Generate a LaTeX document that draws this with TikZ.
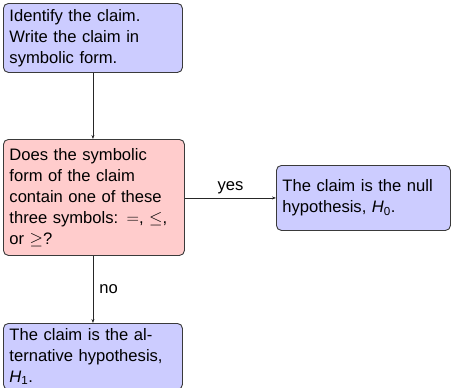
\documentclass[tikz,border=0pt]{standalone}
\usepackage{amsmath}
\usepackage{fontspec}
\setmainfont{Liberation Sans}
\usetikzlibrary{arrows.meta}
\definecolor{stepblue}{HTML}{CCCCFF}
\definecolor{stepred}{HTML}{FFCCCC}
\definecolor{edgegray}{HTML}{3A3A3A}
\tikzset{
  flowbox/.style={draw=edgegray, line width=0.9pt, rounded corners=5pt,
    align=left, inner xsep=6pt, inner ysep=0pt, anchor=north west,
    font=\fontsize{16.6}{21}\selectfont},
  flowarrow/.style={draw=black!85, line width=0.8pt,
    -{Stealth[length=4pt,width=3pt]}},
  flowlabel/.style={font=\fontsize{16.6}{19}\selectfont}
}
\begin{document}
\begin{tikzpicture}[x=1pt,y=-1pt]
  \useasboundingbox (0,0) rectangle (451,388);
  % claim
  \node[flowbox, fill=stepblue, text width=167pt, minimum width=179pt, minimum height=69pt]
    (claim) at (3,3) {Identify the claim.\\Write the claim in\\symbolic form.};
  % decision
  \node[flowbox, fill=stepred, text width=169pt, minimum width=181pt, minimum height=116pt]
    (question) at (3,139) {Does the symbolic\\form of the claim\\contain one of these\\three symbols: $=$, $\le$,\\or $\ge$?};
  % null hypothesis
  \node[flowbox, fill=stepblue, text width=162pt, minimum width=174pt, minimum height=65pt]
    (null) at (276,165) {The claim is the null\\hypothesis, $\textit{H}_{\text{0}}$.};
  % alternative hypothesis
  \node[flowbox, fill=stepblue, text width=167pt, minimum width=179pt, minimum height=66pt]
    (alt) at (3,323) {The claim is the al-\\ternative hypothesis,\\$\textit{H}_{\text{1}}$.};
  % connectors
  \draw[flowarrow] (claim.south) -- (claim.south |- question.north);
  \draw[flowarrow] (question.east |- null.west) -- node[flowlabel, above, inner sep=4pt] {yes} (null.west);
  \draw[flowarrow] (claim.south |- question.south) -- node[flowlabel, right, inner sep=6pt] {no} (claim.south |- alt.north);
\end{tikzpicture}
\end{document}
